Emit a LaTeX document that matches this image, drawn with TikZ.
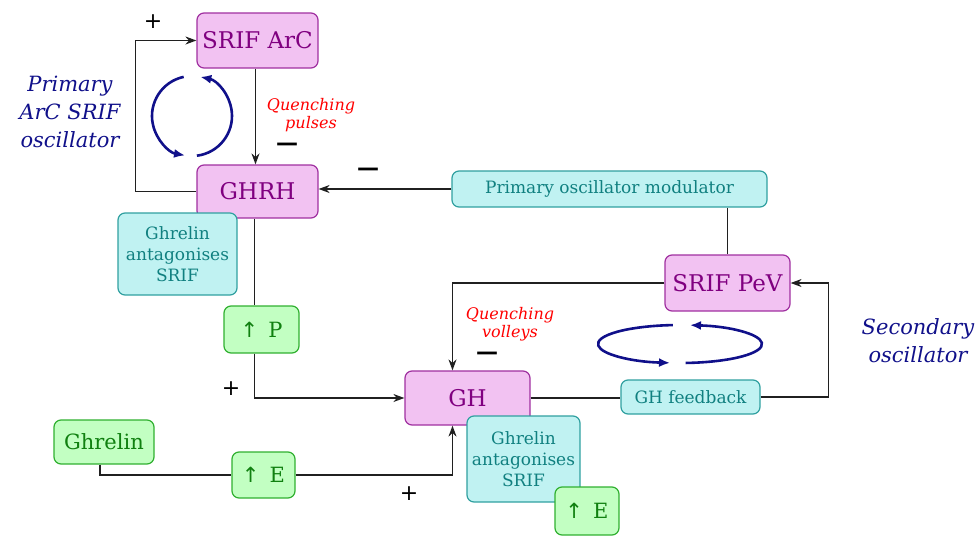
\documentclass[tikz,border=0pt]{standalone}
\usepackage{fontspec}
\setmainfont{DejaVu Serif}
\newfontfamily\symf{DejaVu Sans}
\usetikzlibrary{arrows.meta,calc}
\definecolor{pinkfill}{HTML}{F2C2F2}
\definecolor{pinkline}{HTML}{A030A0}
\definecolor{pinktext}{HTML}{800080}
\definecolor{cyanfill}{HTML}{C0F2F2}
\definecolor{cyanline}{HTML}{30A0A0}
\definecolor{cyantext}{HTML}{108080}
\definecolor{greenfill}{HTML}{C2FFC2}
\definecolor{greenline}{HTML}{30B030}
\definecolor{greentext}{HTML}{108010}
\definecolor{oscblue}{HTML}{10108A}
\definecolor{linecol}{HTML}{202020}
\begin{document}
\begin{tikzpicture}[x=1pt,y=-1pt,
  box/.style={rounded corners=7pt,line width=1.2pt,inner sep=0pt,align=center},
  pinkbox/.style={box,fill=pinkfill,draw=pinkline,text=pinktext,font=\fontsize{23}{27}\selectfont},
  cyanbox/.style={box,fill=cyanfill,draw=cyanline,text=cyantext,font=\fontsize{17}{21}\selectfont},
  greenbox/.style={box,fill=greenfill,draw=greenline,text=greentext,font=\fontsize{21}{25}\selectfont},
  conn/.style={line width=1.5pt,draw=linecol},
  arr/.style={conn,-{Stealth[length=11pt,width=8pt]}},
  osc/.style={line width=2.6pt,draw=oscblue,-{Latex[length=11pt,width=9pt]}},
  lbl/.style={text=oscblue,font=\fontsize{21}{28}\selectfont\itshape,align=center},
  qlbl/.style={text=red,font=\fontsize{16}{18}\selectfont\itshape,align=center},
  sign/.style={text=black,font=\symf\fontsize{22}{22}\selectfont\bfseries},
  plussign/.style={text=black,font=\symf\fontsize{22}{22}\selectfont}
]
\useasboundingbox (0,0) rectangle (978,536);

% pink boxes
\node[pinkbox,minimum width=121pt,minimum height=55pt] (srifarc) at (257.5,40.5) {SRIF ArC};
\node[pinkbox,minimum width=121pt,minimum height=53pt] (ghrh) at (257.5,191.5) {GHRH};
\node[pinkbox,minimum width=125pt,minimum height=54pt] (gh) at (467.5,398) {GH};
\node[pinkbox,minimum width=125pt,minimum height=56pt] (srifpev) at (727.5,283) {SRIF PeV};

% cyan boxes
\node[cyanbox,minimum width=315pt,minimum height=36pt] (pom) at (609.5,189) {Primary oscillator modulator};
\node[cyanbox,minimum width=119pt,minimum height=82pt] (gas1) at (177.5,254) {Ghrelin\\antagonises\\SRIF};
\node[cyanbox,minimum width=139pt,minimum height=34pt] (ghfb) at (690.5,397) {GH feedback};

% green boxes
\node[greenbox,minimum width=100pt,minimum height=44pt] (ghrelin) at (104,442) {Ghrelin};
\node[greenbox,minimum width=75pt,minimum height=47pt] (upP) at (261.5,329.5) {{\symf ↑}\, P};
\node[greenbox,minimum width=63pt,minimum height=46pt] (upE1) at (263.5,475) {{\symf ↑}\, E};

% connectors
\draw[arr] (ghrh.west) -- ++(-61,0) |- (srifarc.west);
\draw[arr] ([xshift=-2pt]srifarc.south) -- ([xshift=-2pt]ghrh.north);
\draw[arr] (pom.west) -- (pom.west -| ghrh.east);
\draw[conn] (srifpev.north) -- (srifpev.north |- pom.south);
\draw[arr] (srifpev.west) -| ([xshift=-15pt]gh.north);
\draw[conn] ([xshift=-3pt]ghrh.south) -- ([xshift=-3pt]ghrh.south |- upP.north);
\draw[arr] ([xshift=-7pt]upP.south) |- (gh.west);
\draw[conn] (gh.east) -- (gh.east -| ghfb.west);
\draw[arr] (ghfb.east) -- ++(68,0) |- (srifpev.east);
\draw[conn] ([xshift=-4pt]ghrelin.south) |- (upE1.west);
\draw[arr] (upE1.east) -| ([xshift=-15pt]gh.south);

% boxes drawn over the lines
\node[cyanbox,minimum width=113pt,minimum height=86pt] (gas2) at (523.5,459) {Ghrelin\\antagonises\\SRIF};
\node[greenbox,minimum width=64pt,minimum height=48pt] (upE2) at (587,511) {{\symf ↑}\, E};

% oscillation arrows
\coordinate (c1) at (192,116);
\draw[osc] ($(c1)+(102:40pt)$) arc[start angle=102, end angle=260, radius=40pt];
\draw[osc] ($(c1)+(277:40pt)$) arc[start angle=277, end angle=438, radius=40pt];
\coordinate (c2) at (680,344);
\draw[osc] ($(c2)+(95:82pt and 19pt)$) arc[start angle=95, end angle=263, x radius=82pt, y radius=19pt];
\draw[osc] ($(c2)+(274:82pt and 19pt)$) arc[start angle=274, end angle=443, x radius=82pt, y radius=19pt];

% labels
\node[lbl] (prim) at (70,112) {Primary\\ArC SRIF\\oscillator};
\node[lbl] (sec) at (918,341) {Secondary\\oscillator};
\node[qlbl] (qp) at (311,115) {Quenching\\pulses};
\node[qlbl] (qv) at (510,324) {Quenching\\volleys};

% signs
\node[plussign] (p1) at (153,22) {+};
\node[plussign] (p2) at (231,389) {+};
\node[plussign] (p3) at (409,494) {+};
\node[sign] (m1) at (287,147) {—};
\node[sign] (m2) at (368,172) {—};
\node[sign] (m3) at (487,356) {—};
\end{tikzpicture}
\end{document}
